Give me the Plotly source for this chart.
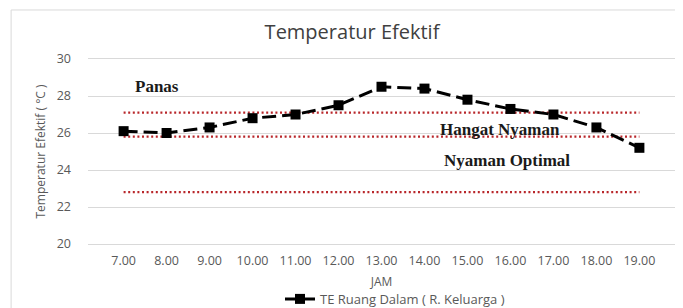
import plotly.graph_objects as go

jam = ["7.00", "8.00", "9.00", "10.00", "11.00", "12.00", "13.00",
       "14.00", "15.00", "16.00", "17.00", "18.00", "19.00"]
te_ruang_dalam = [26.1, 26.0, 26.3, 26.8, 27.0, 27.5, 28.5,
                  28.4, 27.8, 27.3, 27.0, 26.3, 25.2]
batas_nilai = [27.1, 25.8, 22.8]
zona_label = ["Panas", "Hangat Nyaman", "Nyaman Optimal"]
zona_y = [28.5, 26.2, 24.5]
zona_x = [0.1175, 0.702, 0.714]

grey = "#595959"
fig = go.Figure()

for b in batas_nilai:
    fig.add_trace(go.Scatter(
        x=[jam[0], jam[-1]], y=[b, b], mode="lines",
        line=dict(color="#b8262a", width=2.2, dash="2px,2.6px"),
        showlegend=False, hoverinfo="skip"))

fig.add_trace(go.Scatter(
    x=jam, y=te_ruang_dalam, mode="lines+markers",
    name="TE Ruang Dalam ( R. Keluarga )",
    line=dict(color="black", width=3, dash="14px,6px"),
    marker=dict(symbol="square", size=10, color="black")))

for lab, yy, xx in zip(zona_label, zona_y, zona_x):
    fig.add_annotation(
        x=xx, xref="paper", y=yy, yref="y", text=f"<b>{lab}</b>",
        showarrow=False, xanchor="center", yanchor="middle",
        font=dict(family="Liberation Serif", size=17, color="#1a1a1a"))

fig.add_shape(type="rect", xref="paper", yref="paper",
              x0=-0.131, x1=1.2, y0=-0.5, y1=1.265,
              line=dict(color="#d9d9d9", width=1), layer="below")

# page body has an 8px margin, so the figure is 8px smaller and shifted
fig.update_layout(
    width=675, height=300,
    margin=dict(l=80, r=8, t=51, b=64, autoexpand=False),
    paper_bgcolor="white", plot_bgcolor="white",
    font=dict(family="Open Sans", color=grey),
    title=dict(text="Temperatur Efektif", x=344 / 675, xref="container",
               xanchor="center", y=1 - 24 / 300, yref="container",
               yanchor="middle",
               font=dict(family="Open Sans", size=20, color="#404040")),
    xaxis=dict(type="category", categoryorder="array", categoryarray=jam,
               automargin=False,
               showgrid=False, zeroline=False,
               showline=True, mirror=True, linecolor="#d9d9d9", linewidth=1,
               ticks="", ticklabelstandoff=5,
               tickfont=dict(size=12.5, color=grey),
               title=dict(text="JAM", font=dict(size=12, color=grey),
                          standoff=9)),
    yaxis=dict(range=[20, 30], dtick=2, showgrid=True, automargin=False,
               gridcolor="#d9d9d9", gridwidth=1, zeroline=False,
               showline=False, ticks="", ticklabelstandoff=16,
               tickfont=dict(size=12.5, color=grey),
               title=dict(text="Temperatur Efektif ( °C )",
                          font=dict(size=12, color=grey), standoff=8)),
    legend=dict(orientation="h", x=0.523, xanchor="center",
                y=-0.297, yanchor="middle",
                font=dict(size=13, color=grey),
                bgcolor="rgba(0,0,0,0)"),
    showlegend=True,
)

fig.write_html("out.html")
